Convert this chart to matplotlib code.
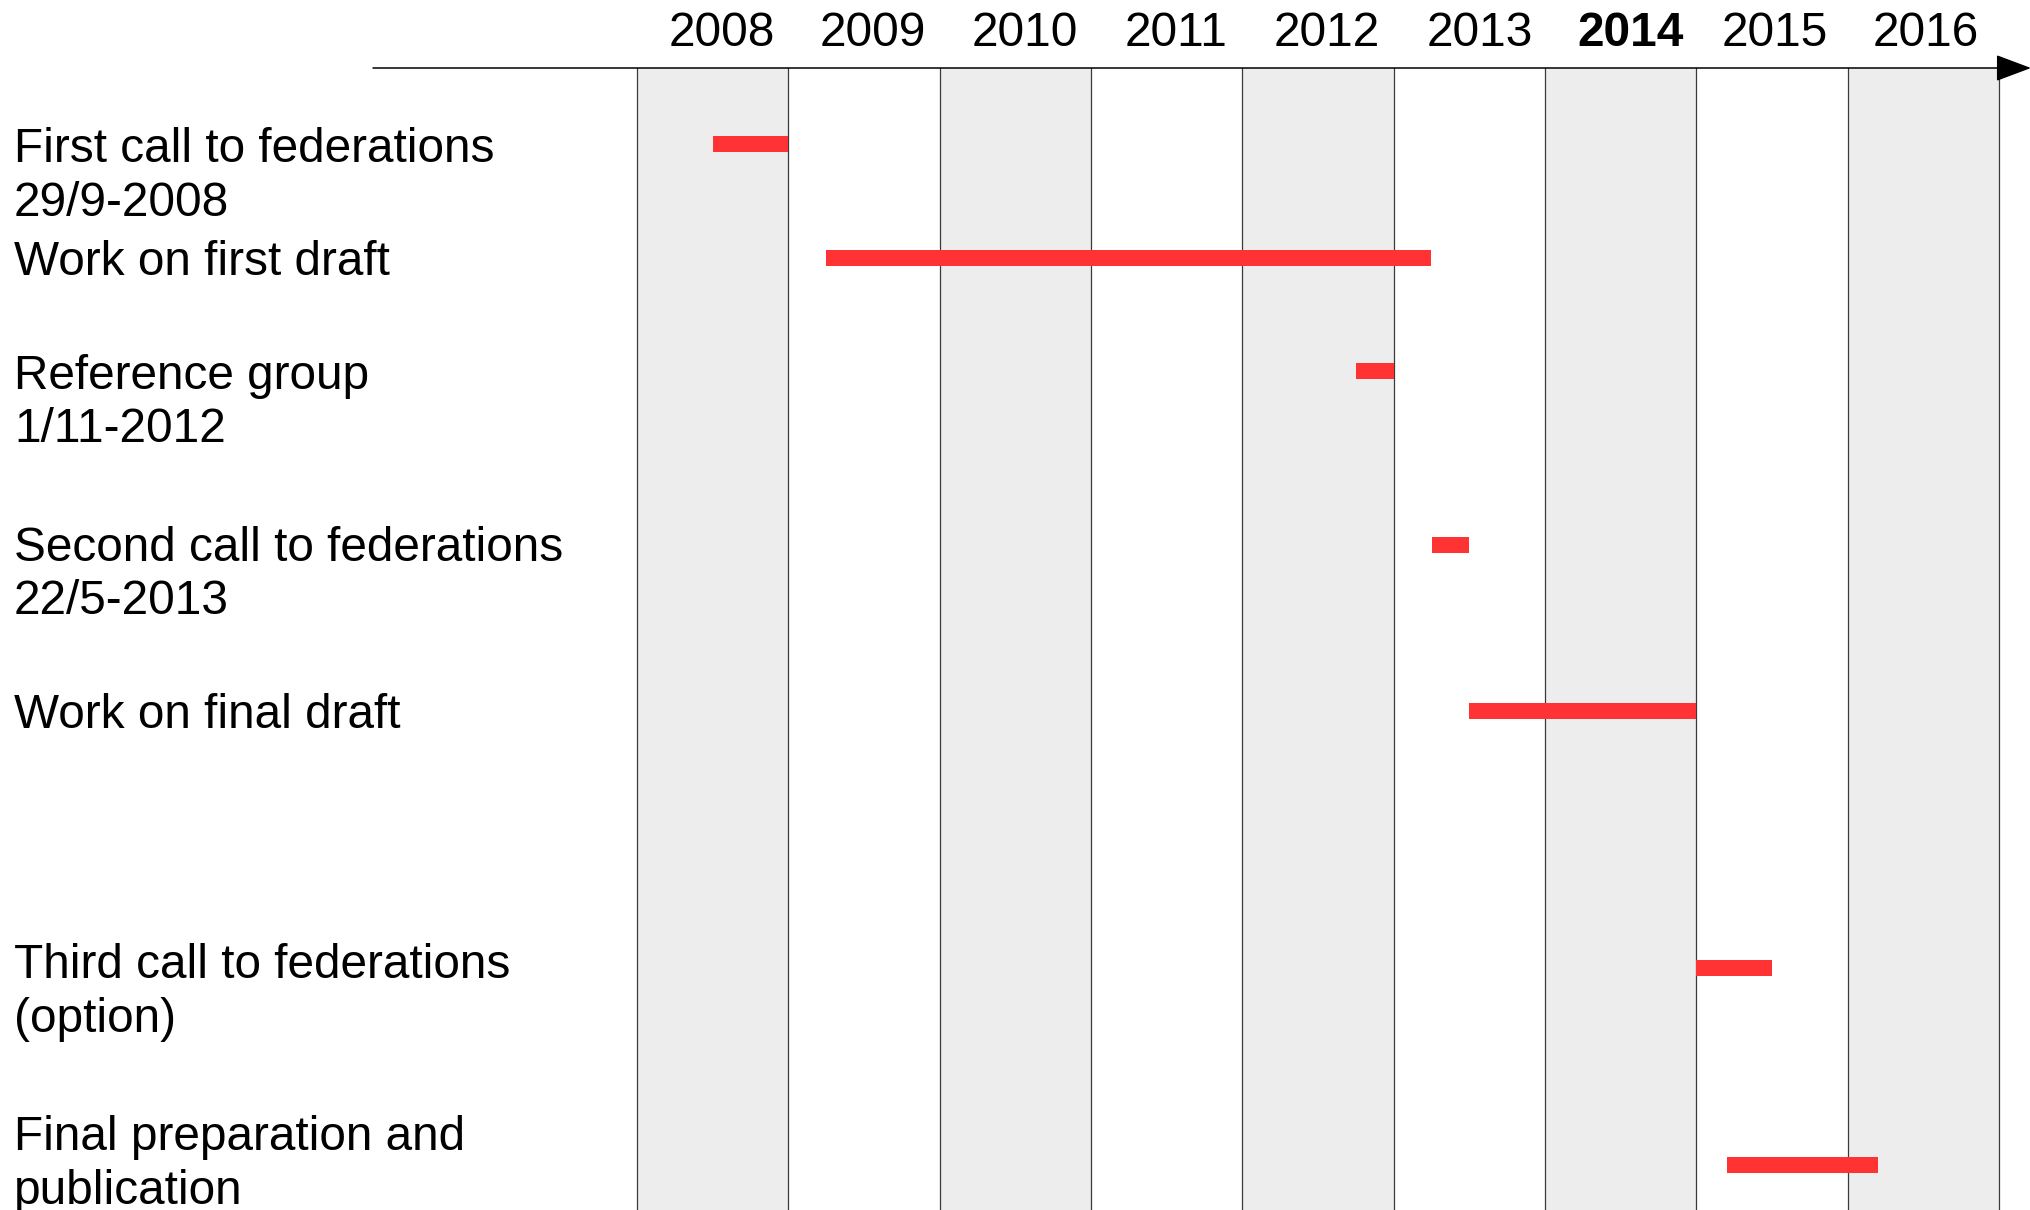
import matplotlib
matplotlib.use("Agg")
import matplotlib.pyplot as plt
from matplotlib.transforms import blended_transform_factory, offset_copy

# -----------------------------
# Data
# -----------------------------

years = [2008, 2009, 2010, 2011, 2012, 2013, 2014, 2015, 2016]
highlight_year = 2014

tasks = [
    "First call to federations\n29/9-2008",
    "Work on first draft",
    "Reference group\n1/11-2012",
    "Second call to federations\n22/5-2013",
    "Work on final draft",
    "Third call to federations\n(option)",
    "Final preparation and\npublication",
]
task_start = [2008.5, 2009.25, 2012.75, 2013.25, 2013.5, 2015.0, 2015.2]
task_end = [2009.0, 2013.25, 2013.0, 2013.5, 2015.0, 2015.5, 2016.2]

# -----------------------------
# Layout (pixels below the time axis)
# -----------------------------

W, H = 2031, 1210
axis_top = 68
bar_y = [76, 190, 303, 477, 643, 900, 1097]
label_y = [94, 207, 321, 493, 660, 910, 1082]
line_step = 53.5
year_dx = [9, 9, 9, 9, 9, 10, 10, 3, 2]   # small nudges of the year labels, px
fs = 34.4

plt.rcParams["font.family"] = ["Liberation Sans", "DejaVu Sans"]

fig = plt.figure(figsize=(W / 100, H / 100), dpi=100)
ax = fig.add_axes([637 / W, 0, (1999 - 637) / W, (H - axis_top) / H])
ax.set_xlim(years[0], years[-1] + 1)
ax.set_ylim(H - axis_top, 0)
ax.axis("off")

# alternating grey columns + separators
for i, yr in enumerate(years):
    if i % 2 == 0:
        ax.axvspan(yr, yr + 1, color="#ededed", zorder=0, lw=0)
for yr in years + [years[-1] + 1]:
    ax.axvline(yr, color="#3a3a3a", lw=0.9, zorder=1, clip_on=False)

# task bars
widths = [e - s for s, e in zip(task_start, task_end)]
ax.barh(bar_y, widths, left=task_start, height=16.5,
        color="#ff3333", zorder=3)

# year labels
year_tr = blended_transform_factory(ax.transData, fig.transFigure)
for yr, dx in zip(years, year_dx):
    tr = offset_copy(year_tr, fig=fig, x=dx, y=0, units="dots")
    ax.text(yr + 0.5, 1 - 46 / H, str(yr), transform=tr,
            ha="center", va="baseline", fontsize=fs,
            fontweight="bold" if yr == highlight_year else "normal")

# task labels
lab_tr = blended_transform_factory(fig.transFigure, ax.transData)
for text, y in zip(tasks, label_y):
    for j, line in enumerate(text.split("\n")):
        ax.text(14 / W, y + j * line_step, line, transform=lab_tr,
                ha="left", va="baseline", fontsize=fs)

# time axis with arrow
axis_tr = blended_transform_factory(fig.transFigure, ax.transAxes)
ax.annotate("", xy=(1.0, 1.0), xytext=(373 / W, 1.0),
            xycoords=axis_tr, textcoords=axis_tr,
            arrowprops=dict(arrowstyle="-|>,head_length=0.4,head_width=0.15",
                            mutation_scale=56, lw=1.1, color="black",
                            shrinkA=0, shrinkB=0),
            annotation_clip=False)

fig.savefig("out.png", dpi=100)
